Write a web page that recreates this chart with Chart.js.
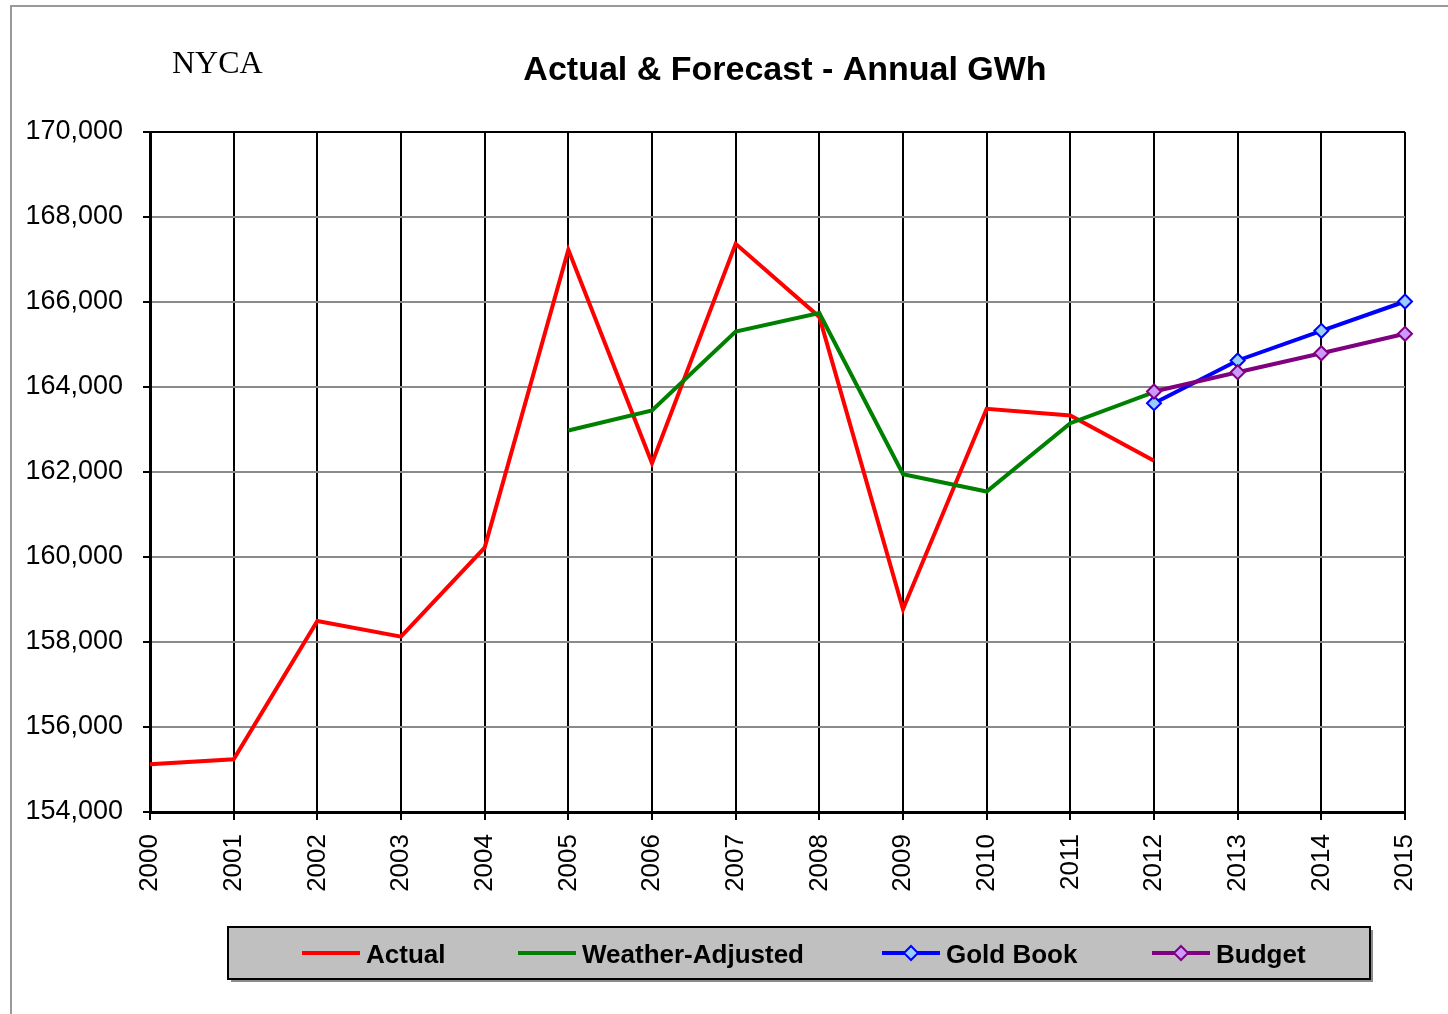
<!DOCTYPE html>
<html>
<head>
<meta charset="utf-8">
<script src="https://cdn.jsdelivr.net/npm/chart.js@4.4.1/dist/chart.umd.min.js"></script>
<style>
  html, body { margin: 0; padding: 0; background: #ffffff; }
  #wrap { width: 1448px; height: 1014px; }
</style>
</head>
<body>
<div id="wrap"><canvas id="c" width="1448" height="1014"></canvas></div>
<script>
const years = ['2000','2001','2002','2003','2004','2005','2006','2007','2008','2009','2010','2011','2012','2013','2014','2015'];
const actual = [155122, 155239, 158494, 158125, 160220, 167228, 162207, 167369, 165650, 158772, 163487, 163329, 162263, null, null, null];
const weatherAdjusted = [null, null, null, null, null, 162976, 163447, 165306, 165740, 161948, 161541, 163148, 163878, null, null, null];
const goldBook = [null, null, null, null, null, null, null, null, null, null, null, null, 163619, 164624, 165322, 166012];
const budget = [null, null, null, null, null, null, null, null, null, null, null, null, 163894, 164348, 164795, 165252];
const seriesNames = ['Actual', 'Weather-Adjusted', 'Gold Book', 'Budget'];
const chartTitle = 'Actual & Forecast - Annual GWh';
const cornerLabel = 'NYCA';

const SANS = '"Liberation Sans", Arial, Helvetica, sans-serif';
const SERIF = '"Liberation Serif", "Times New Roman", serif';
Chart.defaults.font.family = SANS;

const decorPlugin = {
  id: 'decor',
  beforeDraw(chart) {
    const ctx = chart.ctx;
    ctx.save();
    ctx.fillStyle = '#ffffff';
    ctx.fillRect(0, 0, chart.width, chart.height);
    ctx.strokeStyle = '#999999';
    ctx.lineWidth = 2;
    ctx.strokeRect(11, 6, chart.width + 20, chart.height + 20);
    ctx.restore();
  },
  afterDraw(chart) {
    const ctx = chart.ctx;
    ctx.save();
    // corner label
    ctx.fillStyle = '#000000';
    ctx.font = '32px ' + SERIF;
    ctx.textAlign = 'left';
    ctx.textBaseline = 'alphabetic';
    ctx.fillText(cornerLabel, 172, 73);
    // title
    ctx.font = 'bold 34px ' + SANS;
    ctx.textAlign = 'center';
    ctx.fillText(chartTitle, 785, 80);

    // legend box
    const bx = 228, by = 927, bw = 1142, bh = 52;
    ctx.fillStyle = '#8c8c8c';
    ctx.fillRect(bx + 3, by + 3, bw, bh);
    ctx.fillStyle = '#c0c0c0';
    ctx.fillRect(bx, by, bw, bh);
    ctx.strokeStyle = '#000000';
    ctx.lineWidth = 2;
    ctx.strokeRect(bx, by, bw, bh);

    const lineStarts = [302, 518, 882, 1152];
    const ly = 953;
    ctx.font = 'bold 26px ' + SANS;
    ctx.textAlign = 'left';
    ctx.textBaseline = 'middle';
    chart.data.datasets.forEach((ds, i) => {
      const x0 = lineStarts[i];
      ctx.strokeStyle = ds.borderColor;
      ctx.lineWidth = 4;
      ctx.beginPath();
      ctx.moveTo(x0, ly);
      ctx.lineTo(x0 + 58, ly);
      ctx.stroke();
      if (ds.pointRadius > 0) {
        const cx = x0 + 29, r = 7;
        ctx.beginPath();
        ctx.moveTo(cx, ly - r);
        ctx.lineTo(cx + r, ly);
        ctx.lineTo(cx, ly + r);
        ctx.lineTo(cx - r, ly);
        ctx.closePath();
        ctx.fillStyle = ds.pointBackgroundColor;
        ctx.fill();
        ctx.lineWidth = 2;
        ctx.strokeStyle = ds.borderColor;
        ctx.stroke();
      }
      ctx.fillStyle = '#000000';
      ctx.fillText(ds.label, x0 + 64, ly + 3);
    });
    ctx.restore();
  }
};

new Chart(document.getElementById('c'), {
  type: 'line',
  data: {
    labels: years,
    datasets: [
      { label: seriesNames[0], data: actual, borderColor: '#ff0000', backgroundColor: '#ff0000', borderWidth: 4, pointRadius: 0, tension: 0, order: 3 },
      { label: seriesNames[1], data: weatherAdjusted, borderColor: '#008000', backgroundColor: '#008000', borderWidth: 4, pointRadius: 0, tension: 0, order: 2 },
      { label: seriesNames[2], data: goldBook, borderColor: '#0000ff', backgroundColor: '#0000ff', pointBackgroundColor: '#99ccff', pointBorderColor: '#0000ff', pointBorderWidth: 2, pointStyle: 'rectRot', pointRadius: 7, borderWidth: 4, tension: 0, order: 1 },
      { label: seriesNames[3], data: budget, borderColor: '#800080', backgroundColor: '#800080', pointBackgroundColor: '#cc99ff', pointBorderColor: '#800080', pointBorderWidth: 2, pointStyle: 'rectRot', pointRadius: 7, borderWidth: 4, tension: 0, order: 0 }
    ]
  },
  options: {
    responsive: false,
    animation: false,
    spanGaps: false,
    layout: { padding: { top: 132, right: 43, bottom: 0, left: 0 } },
    plugins: {
      legend: { display: false },
      title: { display: false },
      tooltip: { enabled: false }
    },
    scales: {
      x: {
        type: 'category',
        offset: false,
        grid: { color: '#000000', lineWidth: 2, tickLength: 8, tickColor: '#000000', drawTicks: true },
        border: { color: '#000000', width: 3 },
        ticks: { color: '#000000', font: { size: 26 }, minRotation: 90, maxRotation: 90, padding: 14, autoSkip: false },
        afterFit(scale) { scale.height = 202; scale.paddingLeft = 0; scale.paddingRight = 0; }
      },
      y: {
        min: 154000,
        max: 170000,
        grid: {
          color: (c) => (c.tick && c.tick.value === 170000) ? '#000000' : '#8a8a8a',
          lineWidth: 2, tickLength: 7, tickColor: '#000000'
        },
        border: { color: '#000000', width: 3 },
        ticks: {
          stepSize: 2000, color: '#000000', font: { size: 27 }, padding: 20,
          callback: (v) => v.toLocaleString('en-US')
        },
        afterFit(scale) { scale.width = 150; scale.paddingTop = 0; scale.paddingBottom = 0; }
      }
    }
  },
  plugins: [decorPlugin]
});
</script>
</body>
</html>
